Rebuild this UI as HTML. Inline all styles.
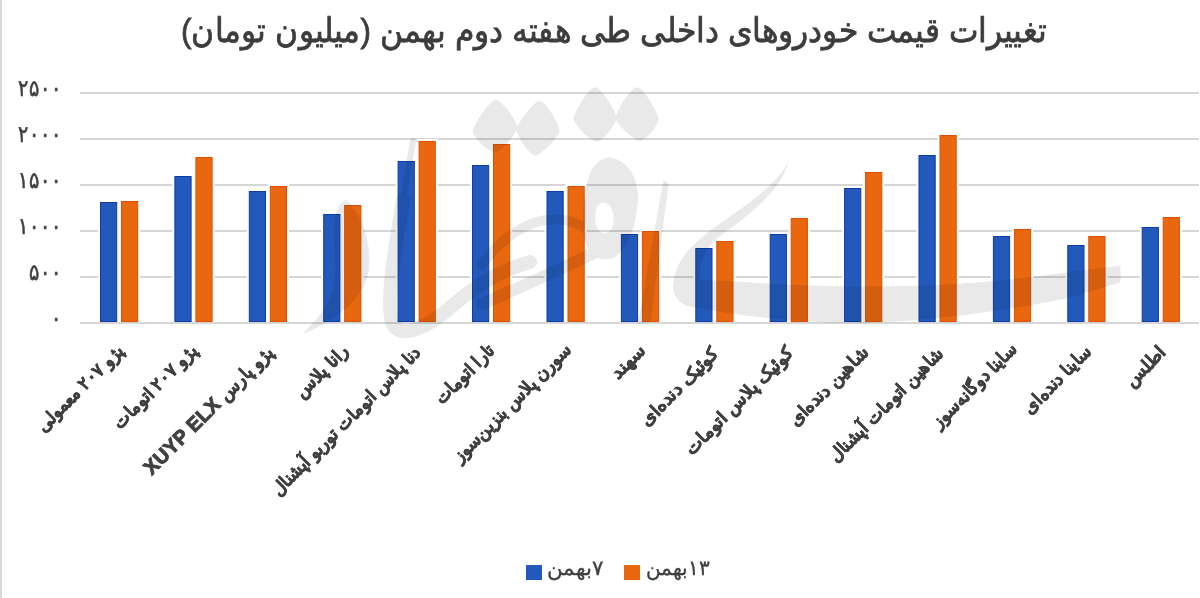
<!DOCTYPE html>
<html><head><meta charset="utf-8"><style>
html,body{margin:0;padding:0;background:#fff;}
body{width:1200px;height:598px;position:relative;overflow:hidden;font-family:"Liberation Sans",sans-serif;color:#404040;}
#lb{position:absolute;left:0;top:0;width:2px;height:598px;background:#d9d9d9;}
#title{position:absolute;left:0;width:1228px;top:11.5px;text-align:center;font-size:31px;font-weight:normal;-webkit-text-stroke:0.7px #3c3c3c;transform:scale(1.015,1.1);transform-origin:614px 20px;direction:rtl;white-space:nowrap;color:#3c3c3c}
.yl{position:absolute;right:1138.5px;font-size:19.5px;font-weight:normal;direction:rtl;white-space:nowrap;line-height:20px;transform:scaleY(1.2);-webkit-text-stroke:0.5px #404040}
.xl{position:absolute;width:0;height:0;}
.xl span{position:absolute;right:0;top:0;white-space:nowrap;direction:rtl;font-size:18px;font-weight:bold;transform-origin:100% 0;transform:rotate(-45deg);line-height:18px;-webkit-text-stroke:0.55px #404040}
svg{position:absolute;left:0;top:0}
.lat{font-size:20px;-webkit-text-stroke:1px #404040;letter-spacing:0.3px}
.leg{position:absolute;top:558px;font-size:19.8px;font-weight:normal;transform:scaleY(1.05);-webkit-text-stroke:0.3px #404040;transform-origin:0 50%;direction:rtl;white-space:nowrap;line-height:20px}
.sq{position:absolute;top:564.5px;width:16px;height:15.3px}
</style></head><body>
<div id="lb"></div>
<svg width="1200" height="598">
<rect x="80" y="92" width="1119" height="2" fill="#d6d6d6"/><rect x="80" y="138" width="1119" height="2" fill="#d6d6d6"/><rect x="80" y="184" width="1119" height="2" fill="#d6d6d6"/><rect x="80" y="230" width="1119" height="2" fill="#d6d6d6"/><rect x="80" y="276" width="1119" height="2" fill="#d6d6d6"/><rect x="80" y="322" width="1119" height="2" fill="#d6d6d6"/><rect x="98.0" y="200" width="21.2" height="122" fill="#fff"/><rect x="119.0" y="199" width="21.2" height="123" fill="#fff"/><rect x="100.5" y="202.5" width="16.2" height="119" fill="#2259bb" stroke="#0f3aa8" stroke-width="1"/><rect x="121.5" y="201.5" width="16.2" height="120" fill="#e8670f" stroke="#e04e00" stroke-width="1"/><rect x="172.4" y="174" width="21.2" height="148" fill="#fff"/><rect x="193.4" y="155" width="21.2" height="167" fill="#fff"/><rect x="174.9" y="176.5" width="16.2" height="145" fill="#2259bb" stroke="#0f3aa8" stroke-width="1"/><rect x="195.9" y="157.5" width="16.2" height="164" fill="#e8670f" stroke="#e04e00" stroke-width="1"/><rect x="246.8" y="189" width="21.2" height="133" fill="#fff"/><rect x="267.8" y="184" width="21.2" height="138" fill="#fff"/><rect x="249.3" y="191.5" width="16.2" height="130" fill="#2259bb" stroke="#0f3aa8" stroke-width="1"/><rect x="270.3" y="186.5" width="16.2" height="135" fill="#e8670f" stroke="#e04e00" stroke-width="1"/><rect x="321.2" y="212" width="21.2" height="110" fill="#fff"/><rect x="342.2" y="203" width="21.2" height="119" fill="#fff"/><rect x="323.7" y="214.5" width="16.2" height="107" fill="#2259bb" stroke="#0f3aa8" stroke-width="1"/><rect x="344.7" y="205.5" width="16.2" height="116" fill="#e8670f" stroke="#e04e00" stroke-width="1"/><rect x="395.6" y="159" width="21.2" height="163" fill="#fff"/><rect x="416.6" y="139" width="21.2" height="183" fill="#fff"/><rect x="398.1" y="161.5" width="16.2" height="160" fill="#2259bb" stroke="#0f3aa8" stroke-width="1"/><rect x="419.1" y="141.5" width="16.2" height="180" fill="#e8670f" stroke="#e04e00" stroke-width="1"/><rect x="470.0" y="163" width="21.2" height="159" fill="#fff"/><rect x="491.0" y="142" width="21.2" height="180" fill="#fff"/><rect x="472.5" y="165.5" width="16.2" height="156" fill="#2259bb" stroke="#0f3aa8" stroke-width="1"/><rect x="493.5" y="144.5" width="16.2" height="177" fill="#e8670f" stroke="#e04e00" stroke-width="1"/><rect x="544.5" y="189" width="21.2" height="133" fill="#fff"/><rect x="565.5" y="184" width="21.2" height="138" fill="#fff"/><rect x="547.0" y="191.5" width="16.2" height="130" fill="#2259bb" stroke="#0f3aa8" stroke-width="1"/><rect x="568.0" y="186.5" width="16.2" height="135" fill="#e8670f" stroke="#e04e00" stroke-width="1"/><rect x="618.9" y="232" width="21.2" height="90" fill="#fff"/><rect x="639.9" y="229" width="21.2" height="93" fill="#fff"/><rect x="621.4" y="234.5" width="16.2" height="87" fill="#2259bb" stroke="#0f3aa8" stroke-width="1"/><rect x="642.4" y="231.5" width="16.2" height="90" fill="#e8670f" stroke="#e04e00" stroke-width="1"/><rect x="693.3" y="246" width="21.2" height="76" fill="#fff"/><rect x="714.3" y="239" width="21.2" height="83" fill="#fff"/><rect x="695.8" y="248.5" width="16.2" height="73" fill="#2259bb" stroke="#0f3aa8" stroke-width="1"/><rect x="716.8" y="241.5" width="16.2" height="80" fill="#e8670f" stroke="#e04e00" stroke-width="1"/><rect x="767.7" y="232" width="21.2" height="90" fill="#fff"/><rect x="788.7" y="216" width="21.2" height="106" fill="#fff"/><rect x="770.2" y="234.5" width="16.2" height="87" fill="#2259bb" stroke="#0f3aa8" stroke-width="1"/><rect x="791.2" y="218.5" width="16.2" height="103" fill="#e8670f" stroke="#e04e00" stroke-width="1"/><rect x="842.1" y="186" width="21.2" height="136" fill="#fff"/><rect x="863.1" y="170" width="21.2" height="152" fill="#fff"/><rect x="844.6" y="188.5" width="16.2" height="133" fill="#2259bb" stroke="#0f3aa8" stroke-width="1"/><rect x="865.6" y="172.5" width="16.2" height="149" fill="#e8670f" stroke="#e04e00" stroke-width="1"/><rect x="916.5" y="153" width="21.2" height="169" fill="#fff"/><rect x="937.5" y="133" width="21.2" height="189" fill="#fff"/><rect x="919.0" y="155.5" width="16.2" height="166" fill="#2259bb" stroke="#0f3aa8" stroke-width="1"/><rect x="940.0" y="135.5" width="16.2" height="186" fill="#e8670f" stroke="#e04e00" stroke-width="1"/><rect x="990.9" y="234" width="21.2" height="88" fill="#fff"/><rect x="1011.9" y="227" width="21.2" height="95" fill="#fff"/><rect x="993.4" y="236.5" width="16.2" height="85" fill="#2259bb" stroke="#0f3aa8" stroke-width="1"/><rect x="1014.4" y="229.5" width="16.2" height="92" fill="#e8670f" stroke="#e04e00" stroke-width="1"/><rect x="1065.3" y="243" width="21.2" height="79" fill="#fff"/><rect x="1086.3" y="234" width="21.2" height="88" fill="#fff"/><rect x="1067.8" y="245.5" width="16.2" height="76" fill="#2259bb" stroke="#0f3aa8" stroke-width="1"/><rect x="1088.8" y="236.5" width="16.2" height="85" fill="#e8670f" stroke="#e04e00" stroke-width="1"/><rect x="1139.7" y="225" width="21.2" height="97" fill="#fff"/><rect x="1160.7" y="215" width="21.2" height="107" fill="#fff"/><rect x="1142.2" y="227.5" width="16.2" height="94" fill="#2259bb" stroke="#0f3aa8" stroke-width="1"/><rect x="1163.2" y="217.5" width="16.2" height="104" fill="#e8670f" stroke="#e04e00" stroke-width="1"/>
</svg>
<svg id="wm" width="1200" height="598" style="mix-blend-mode:multiply">
<g fill="#e9e9e9" stroke="#e9e9e9" stroke-linejoin="round" stroke-linecap="round">
<path stroke-width="11" d="M495.9,105.5 Q505.9,113.6 511.9,127.2 Q505.4,139.4 495.1,147.2 Q484.6,141.9 478.2,131.2 Q485.1,116.1 495.9,105.5 Z"/>
<path stroke-width="11" d="M539.5,106.7 Q548.9,116.1 554.0,130.7 Q546.4,142.9 535.5,149.8 Q526.6,142.4 522.0,129.8 Q529.1,115.6 539.5,106.7 Z"/>
<path stroke-width="11" d="M595.1,92.8 Q604.9,102.6 611.1,117.7 Q605.9,129.4 596.7,136.1 Q586.1,129.9 579.1,118.5 Q585.1,103.1 595.1,92.8 Z"/>
<path stroke-width="11" d="M637.1,92.8 Q646.9,103.6 653.1,119.2 Q648.4,129.9 639.5,135.2 Q628.6,128.9 621.1,117.7 Q627.1,102.6 637.1,92.8 Z"/>
<path stroke-width="1" d="M346,200 C362,215 372,245 368,272 C363,300 335,320 304,333 C322,315 336,298 336,270 C336,250 332,232 336,215 C338,207 341,202 346,200 Z"/>
<path stroke-width="1" fill-rule="evenodd" d="M610,158 C628,160 640,180 637,205 C634,230 628,250 612,258 C596,262 585,250 584,232 C583,210 585,185 592,170 C597,162 603,158 610,158 Z M603,202 C611,202 615,212 614,222 C613,232 606,236 600,232 C594,228 594,216 596,208 C598,204 600,202 603,202 Z"/>
<path stroke-width="1" d="M664,181 L668,184 L650,322 L639,323 Z"/>
<path stroke-width="1" d="M787,165 C778,192 750,214 722,234 C704,248 698,262 700,280 C740,282 800,287 860,287 C930,287 990,284 1066,273 L1120,266 L1120,282 L1066,298 C990,313 930,320 860,323 C800,322 740,316 690,306 C678,303 672,294 674,282 C676,262 690,246 712,230 C742,208 772,190 787,165 Z"/>
</g>
<g fill="none" stroke="#e9e9e9" stroke-linecap="round" stroke-linejoin="round">
<path stroke-width="6" d="M413,141 L402,205"/>
<path stroke-width="14" d="M403,200 C396,245 387,290 391,318 C395,342 425,330 452,306 C475,286 500,270 530,262"/>
<path stroke-width="10" d="M482,265 C505,232 540,212 572,222 C590,228 596,238 596,245"/>
<path stroke-width="12" d="M600,250 C570,265 525,285 482,304"/>
</g>
</svg>
<div id="title">تغییرات قیمت خودروهای داخلی طی هفته دوم بهمن (میلیون تومان)</div>
<div class="yl" style="top:78px">۲۵۰۰</div><div class="yl" style="top:124px">۲۰۰۰</div><div class="yl" style="top:170px">۱۵۰۰</div><div class="yl" style="top:216px">۱۰۰۰</div><div class="yl" style="top:262px">۵۰۰</div><div class="yl" style="top:308px">۰</div>
<div class="xl" style="left:114.4px;top:341.1px"><span style="transform:rotate(-45deg) scaleX(0.939)">پژو ۲۰۷ معمولی</span></div><div class="xl" style="left:188.3px;top:341.0px"><span style="transform:rotate(-45deg) scaleX(0.965)">پژو ۲۰۷ اتومات</span></div><div class="xl" style="left:263.2px;top:341.9px"><span style="transform:rotate(-45deg) scaleX(0.984)">پژو پارس <b class="lat">XUYP ELX</b></span></div><div class="xl" style="left:339.1px;top:340.9px"><span style="transform:rotate(-45deg) scaleX(1.006)">رانا پلاس</span></div><div class="xl" style="left:411.3px;top:342.6px"><span style="transform:rotate(-45deg) scaleX(0.949)">دنا پلاس اتومات توربو آپشنال</span></div><div class="xl" style="left:485.4px;top:340.8px"><span style="transform:rotate(-45deg) scaleX(0.952)">تارا اتومات</span></div><div class="xl" style="left:561.6px;top:339.9px"><span style="transform:rotate(-45deg) scaleX(0.959)">سورن پلاس بنزین‌سوز</span></div><div class="xl" style="left:636.3px;top:340.7px"><span style="transform:rotate(-45deg) scaleX(1.076)">سهند</span></div><div class="xl" style="left:709.2px;top:343.6px"><span style="transform:rotate(-45deg) scaleX(1.032)">کوئیک دنده‌ای</span></div><div class="xl" style="left:783.7px;top:342.8px"><span style="transform:rotate(-45deg) scaleX(1.015)">کوئیک پلاس اتومات</span></div><div class="xl" style="left:858.7px;top:343.3px"><span style="transform:rotate(-45deg) scaleX(1.002)">شاهین دنده‌ای</span></div><div class="xl" style="left:933.7px;top:343.7px"><span style="transform:rotate(-45deg) scaleX(0.965)">شاهین اتومات آپشنال</span></div><div class="xl" style="left:1007.4px;top:340.4px"><span style="transform:rotate(-45deg) scaleX(0.931)">ساینا دوگانه‌سوز</span></div><div class="xl" style="left:1082.3px;top:342.4px"><span style="transform:rotate(-45deg) scaleX(0.977)">ساینا دنده‌ای</span></div><div class="xl" style="left:1155.6px;top:342.6px"><span style="transform:rotate(-45deg) scaleX(1.022)">اطلس</span></div>
<div class="sq" style="left:526px;background:#2259bb"></div>
<div class="leg" style="left:547px;transform:scale(1.07,1.05)">۷بهمن</div>
<div class="sq" style="left:624px;background:#e8670f"></div>
<div class="leg" style="left:646px">۱۳بهمن</div>
</body></html>
